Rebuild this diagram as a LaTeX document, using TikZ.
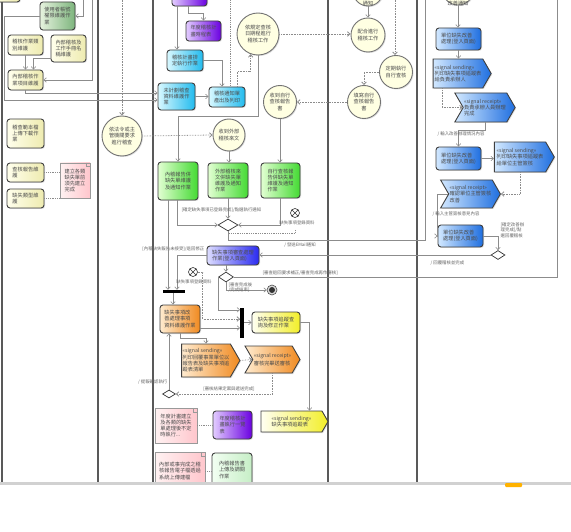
\documentclass[tikz,border=0pt]{standalone}
\usepackage{fontspec}
\setmainfont{Noto Sans CJK TC}
\usetikzlibrary{shapes.geometric,shapes.symbols,shadows,arrows.meta,calc}
\definecolor{ylA}{HTML}{FFFFEC}\definecolor{ylB}{HTML}{EEEBB0}
\definecolor{gnA}{HTML}{E6F2DE}\definecolor{gnB}{HTML}{7DB57D}
\definecolor{bgA}{HTML}{E2FFD2}\definecolor{bgB}{HTML}{44DA33}
\definecolor{cyA}{HTML}{D8F8FF}\definecolor{cyB}{HTML}{22BBEE}
\definecolor{puA}{HTML}{E2CCFF}\definecolor{puB}{HTML}{6A00E0}
\definecolor{blA}{HTML}{D2E8FF}\definecolor{blB}{HTML}{1F6FE0}
\definecolor{orA}{HTML}{FFEBCF}\definecolor{orB}{HTML}{F08A20}
\definecolor{y2A}{HTML}{FFFFF2}\definecolor{y2B}{HTML}{F2EE28}
\definecolor{bpA}{HTML}{DCDCFF}\definecolor{bpB}{HTML}{2A2AF0}
\definecolor{pkA}{HTML}{FFF2F2}\definecolor{pkB}{HTML}{FFC6CC}
\definecolor{lgA}{HTML}{F2FFF2}\definecolor{lgB}{HTML}{C6EEC6}
\definecolor{ciF}{HTML}{FFFFE2}
\tikzset{
  txt/.style={font=\fontsize{5.2}{6.3}\selectfont, text=black!70, align=left},
  act/.style={txt, draw=black!75, line width=0.9pt, rounded corners=3pt, inner sep=1pt,
    drop shadow={opacity=0.25, shadow xshift=1pt, shadow yshift=-1pt}},
  ylw/.style={act, left color=ylA, right color=ylB},
  gnt/.style={act, left color=gnA, right color=gnB},
  bgn/.style={act, left color=bgA, right color=bgB},
  cyn/.style={act, left color=cyA, right color=cyB},
  ppl/.style={act, left color=puA, right color=puB},
  blu/.style={act, left color=blA, right color=blB},
  org/.style={act, left color=orA, right color=orB},
  yl2/.style={act, left color=y2A, right color=y2B},
  bpu/.style={act, left color=bpA, right color=bpB},
  lgn/.style={act, left color=lgA, right color=lgB},
  sendsig/.style={signal, signal to=east, signal pointer angle=120, rounded corners=0pt},
  recvsig/.style={signal, signal from=west, signal pointer angle=120, rounded corners=0pt},
  note/.style={txt, draw=black!40, line width=0.5pt, inner sep=1.5pt, left color=pkA, right color=pkB},
  evt/.style={txt, circle, draw=black!55, line width=0.9pt, fill=ciF, inner sep=0pt, align=center,
    drop shadow={opacity=0.25, shadow xshift=1pt, shadow yshift=-1pt}},
  dec/.style={diamond, draw=black!80, line width=0.7pt, fill=white, inner sep=0pt},
  ffin/.style={circle, draw=black!80, line width=0.6pt, fill=white, minimum size=9pt, inner sep=0pt,
    path picture={\draw[black!80, line width=0.6pt] (path picture bounding box.south west) -- (path picture bounding box.north east)
      (path picture bounding box.north west) -- (path picture bounding box.south east);}},
  afin/.style={circle, draw=black!70, line width=0.6pt, fill=black!15, minimum size=10pt, inner sep=0pt,
    path picture={\fill[black!80] (path picture bounding box.center) circle (3pt);}},
  barh/.style={fill=black, inner sep=0pt},
  con/.style={draw=black!45, line width=0.6pt, -{Straight Barb[length=2.5pt,width=4.5pt]}},
  dcon/.style={con, densely dotted, line width=0.8pt},
  dln/.style={draw=black!45, densely dotted, line width=0.8pt},
  lbl/.style={font=\fontsize{4.4}{5.3}\selectfont, text=black!60, inner sep=0.5pt, align=left},
  lane/.style={draw=black!65, line width=1.3pt}
}
\begin{document}
\begin{tikzpicture}[x=1pt,y=-1pt]
\useasboundingbox[fill=white] (0,0) rectangle (571,532);
\begin{scope}
\clip (0,0) rectangle (571,482);
% lanes
\foreach \lx in {2,98,153,328,417} \draw[lane] (\lx,-5) -- (\lx,482);

% ---------- lane 1 ----------
\node[ylw, minimum width=30, minimum height=22] (n0) at (5,-9) {};
\node[gnt, minimum width=35, minimum height=28] (n1) at (57.5,16) {使用者帳號\\權限維護作\\業};
\node[ylw, minimum width=35, minimum height=20] (n2) at (25.5,45) {稽核作業類\\別維護};
\node[ylw, minimum width=35, minimum height=27] (n3) at (68.5,48.5) {內部稽核及\\工作手冊名\\稱維護};
\node[ylw, minimum width=35, minimum height=20] (n4) at (25.5,80) {內部稽核作\\業項目維護};
\node[ylw, minimum width=37, minimum height=29] (n5) at (25.5,133.5) {稽查範本檔\\上傳下載作\\業};
\node[ylw, minimum width=37, minimum height=19] (n6) at (25.5,172.5) {查核報告維\\護};
\node[ylw, minimum width=37, minimum height=19] (n7) at (25.5,198.5) {缺失類型維\\護};
\node[note, minimum width=30, minimum height=35] (nt1) at (75,180.5) {建立各類\\缺失單前\\須先建立\\完成};
\draw[black!40, line width=0.5pt] ($(nt1.north east)+(-4,0)$) -- ++(0,4) -- ++(4,0);

% ---------- lane 2 ----------
\node[evt, minimum size=40] (c1) at (122,136) {依法令或主\\管機關要求\\進行稽查};

% ---------- lane 3 ----------
\node[ppl, minimum width=35, minimum height=26] (p0) at (189.5,-7) {};
\node[ppl, minimum width=35, minimum height=20] (p1) at (203.5,31) {年度稽核計\\畫時程表};
\node[cyn, minimum width=36, minimum height=21] (b1) at (185,60.5) {稽核計畫排\\定執行作業};
\node[cyn, minimum width=37, minimum height=27] (b2) at (176.5,96.5) {未計劃稽查\\資料維護作\\業};
\node[cyn, minimum width=36, minimum height=20] (b3) at (227,97) {稽核通知單\\產出及列印};
\node[evt, minimum size=42] (c3) at (258,34) {依規定查核\\日期程進行\\稽核工作};
\node[evt, minimum size=33] (c4) at (280,102) {收到自行\\查核報告\\書};
\node[evt, minimum size=32] (c2) at (229,135) {收到外部\\稽核來文};
\node[bgn, minimum width=40, minimum height=38] (g1) at (178,181) {內稽報告併\\缺失單維護\\及通知作業};
\node[bgn, minimum width=40, minimum height=35] (g2) at (228,180.5) {外部稽核來\\文併缺失單\\維護及通知\\作業};
\node[bgn, minimum width=39, minimum height=35] (g3) at (280.5,180.5) {自行查核報\\告併缺失單\\維護及通知\\作業};
\node[dec, minimum width=20, minimum height=12] (d1) at (228,225) {};
\node[ffin] (ff1) at (295,213) {};
\node[bpu, minimum width=52, minimum height=19] (bq) at (233,255.5) {缺失事項審查處理\\作業(登入頁面)};
\node[dec, minimum width=15, minimum height=10] (d2) at (226,277) {};
\node[ffin] (ff2) at (193,272) {};
\node[barh, minimum width=22, minimum height=3] (bar1) at (174,291.5) {};
\node[afin] (fin) at (272,290) {};
\node[org, minimum width=40, minimum height=28] (o1) at (180,319) {缺失事項改\\善處理事項\\資料維護作業};
\node[barh, minimum width=3.5, minimum height=30] (bar2) at (242,323) {};
\node[yl2, minimum width=48, minimum height=21] (y1) at (276,322.5) {缺失事項追蹤查\\詢及修正作業};
\node[org, sendsig, minimum width=58, minimum height=33] (os) at (206,360.5) {<<signal sending>>\\列印回覆事業單位以\\報告表及缺失事項追\\蹤表清單};
\node[org, recvsig, minimum width=55, minimum height=27] (or) at (272.5,359.5) {<<signal receipt>>\\[2pt]審核完畢送審核};
\node[dec, minimum width=13, minimum height=8] (d3) at (169,394) {};
\node[note, minimum width=42, minimum height=35] (nt2) at (176,425.5) {年度計畫建立\\及各類的缺失\\單處理後不定\\時執行...};
\draw[black!40, line width=0.5pt] ($(nt2.north east)+(-4,0)$) -- ++(0,4) -- ++(4,0);
\node[note, minimum width=50, minimum height=38] (nt3) at (180,471) {內部或事完成之稽\\核報告電子檔透過\\系統上傳建檔};
\draw[black!40, line width=0.5pt] ($(nt3.north east)+(-4,0)$) -- ++(0,4) -- ++(4,0);
\node[ppl, minimum width=39, minimum height=28] (p2) at (232.5,425) {年度稽核計\\畫執行一覽\\表};
\node[lgn, minimum width=40, minimum height=34] (lg) at (232,470) {內稽報告書\\上傳及調閱\\作業};
\node[yl2, sendsig, minimum width=67, minimum height=21] (ys) at (291.5,421.5) {<<signal sending>>\\缺失事項追蹤表};

% ---------- lane 4 ----------
\node[evt, minimum size=30] (c5) at (368,-9) {};
\node[txt, inner sep=0pt, align=center] (c5t) at (368,3.2) {通知};
\node[evt, minimum size=34] (c6) at (368,35) {配合進行\\稽核工作};
\node[evt, minimum size=33] (c7) at (396,72) {定期執行\\自行查核};
\node[evt, minimum size=33] (c8) at (364,102) {填寫自行\\查核報告\\書};

% ---------- lane 5 ----------
\node[evt, minimum size=32] (c9) at (458,-11) {};
\node[txt, inner sep=0pt, align=center] (c9t) at (458,3.2) {改善通知};
\node[blu, minimum width=45, minimum height=22] (r1) at (458.5,39) {單位缺失改善\\處理(登入頁面)};
\node[blu, sendsig, minimum width=58, minimum height=29] (rs1) at (458,73.5) {<<signal sending>>\\列印缺失事項追蹤表\\給負責承辦人};
\node[blu, recvsig, minimum width=54, minimum height=29] (rr1) at (485,107.5) {<<signal receipt>>\\負責承辦人員辦理\\完成};
\node[blu, minimum width=45, minimum height=23] (r2) at (458.5,158.5) {單位缺失改善\\處理(登入頁面)};
\node[blu, sendsig, minimum width=60, minimum height=30] (rs2) at (520,157) {<<signal sending>>\\列印缺失事項追蹤表\\給單位主管簽核};
\node[blu, recvsig, minimum width=55, minimum height=28] (rr2) at (470.5,194) {<<signal receipt>>\\確認單位主管簽核\\改善};
\node[blu, minimum width=45, minimum height=22] (r3) at (460.5,236) {單位缺失改善\\處理(登入頁面)};
\node[dec, minimum width=14, minimum height=9] (d4) at (498,255) {};

% free ends at the top
\coordinate (topA) at (92,-5);
\coordinate (topB) at (83,-5);
\coordinate (topC) at (122,-5);
\coordinate (topD) at (230,-5);
\coordinate (topE) at (395,-5);
\coordinate (topF) at (425,-5);
\coordinate (topG) at (557,-5);

% ---------- connectors lane 1 ----------
\draw[con] (n2.south) -- (n4.north);
\draw[con] ($(n3.west)+(0,10)$) -| ([xshift=8pt]n4.north);
\draw[con] (n4.south) |- ($(b2.west)+(0,-3.5)$);
\draw[con] (n1.west) -- ++(-35,0) |- ($(b2.west)+(0,3.5)$);
\draw[con] (topA) |- (n4.east);
\draw[con] (topB) |- (n1.east);
\draw[dln] (n6.east) -- (nt1.west |- n6.east);
\draw[dln] (n7.east) -- (nt1.west |- n7.east);

% ---------- connectors lanes 2-4 ----------
\draw[dcon] (topC) -- (c1.north);
\draw[dcon] (c1.east) -- (c2.west);
\draw[con] (c2.south) -- (c2.south |- g2.north);
\draw[con] ([xshift=-1.5pt]p0.south) -- ++(0,7) -| (p1.north);
\draw[con] ([xshift=-8pt]b1.north |- p0.south) -- ([xshift=-8pt]b1.north);
\draw[con] (b1.east) -| ([xshift=-5pt]b3.north);
\draw[con] (b2.east) -- (b3.west |- b2.east);
\draw[dln] (topD) -- (topD |- b3.north);
\draw[dcon] ([xshift=10pt]b3.north) -- ++(0,-15) -| (c3.250);
\draw[con] (c3.south) -- ++(0,61) -| (g1.north);
\draw[dcon] (c3.east) -- (c6.west |- c3.east);
\draw[con] (c5.south) -- (c6.north);
\draw[dcon] (topE) -- (topE |- c7.north);
\draw[dcon] (c7.west) -| (c8.north);
\draw[dcon] (c8.west) -- (c4.east);
\draw[con] (c4.south) -- (c4.south |- g3.north);

\draw[con] ([xshift=-1pt]g1.south) |- (d1.west);
\draw[con] (g2.south) -- (d1.north);
\draw[con] (g3.south) |- (d1.east);
\node[lbl, anchor=west] (l1) at (181,210) {[確定缺失事項已登錄完成]/點選執行通知};
\node[lbl] (l2) at (297,223) {缺失事項登錄資料};
\draw[dln] (ff1.south) ++(0,12) |- ($(d1.south)+(1,2)$);
\draw[con] (d1.south) -- ++(0,9) -| (topF);
\node[lbl] (l3) at (300,245) {/ 發送EMail通知};

\draw[con] (bq.west) -| ([xshift=3pt]bar1.north);
\node[lbl, anchor=east] (l4) at (205,249) {[內稽缺失報告未接受]/退回修正};
\draw[con] ([xshift=-10pt]g1.south) -- ([xshift=-10pt]g1.south |- bar1.north);
\node[lbl] (l7) at (194,282) {缺失事項登錄資料};
\draw[con] ([xshift=-7pt]o1.north |- bar1.south) -- ([xshift=-7pt]o1.north);
\draw[con] (d2.north |- bq.south) -- (d2.north);
\draw[con] (d2.west) |- ($(bar2.north west)+(0,2)$);
\draw[dcon] (ff2.east) -- ++(5,0) |- ($(bar2.west)+(0,-4)$);
\draw[con] ($(o1.east)+(0,9)$) -- ($(bar2.west)+(0,5)$);
\draw[con] (bar2.east |- y1.west) -- (y1.west);
\draw[con] (y1.east) -| ([xshift=18pt]ys.north);
\draw[con] (d2.south) |- (fin.west);
\node[lbl, anchor=north west] (l6) at (228,282) {[審查完成後\\/完成結束]};
\draw[con] (d2.east) -| (topG);
\node[lbl, anchor=south west] (l5) at (262,275.5) {[審查退回要求補正/審查完成再作審核]};
\draw[con] (o1.south) -- ++(0,5) -| (os.north);
\draw[dcon] (os.east) -- (or.west);
\draw[dcon] (or.south) |- (d3.east);
\node[lbl] (l9) at (229,389) {[審核結果定案與遞送完成]};
\draw[con] (d3.north) -- (d3.north |- o1.south);
\node[lbl, anchor=east] (l8) at (168,382) {/ 提報確認執行};
\draw[dln] (nt2.east) -- (p2.west |- nt2.east);
\draw[dln] (nt3.east) -- (lg.west |- nt3.east);

% ---------- connectors lane 5 ----------
\draw[con] (c9.south) -- (c9.south |- r1.north);
\draw[con] (r1.south) -- (r1.south |- rs1.north);
\draw[dcon] ([xshift=-16pt]rs1.south) |- (rr1.west);
\draw[con] (rr1.south) -- ++(0,8) -| (r2.north);
\node[lbl, anchor=west] (l10) at (437,134) {/ 輸入改善辦理情況內容};
\draw[con] (r2.east) -- (rs2.west |- r2.east);
\draw[dcon] (rs2.south) |- (rr2.east);
\draw[con] (rr2.west) -- ++(-11,0) |- (r3.west);
\node[lbl, anchor=west] (l11) at (432,214) {/ 輸入主管簽核意見內容};
\draw[con] (r3.east) -| (d4.north);
\node[lbl, anchor=north west] (l12) at (500,222) {[確定改善辦\\理完成]/點\\選回覆稽核};
\draw[con] (d4.west) -- (bq.east |- d4.west);
\node[lbl, anchor=west] (l13) at (430,263) {/ 回覆稽核並完成};
\end{scope}
% window edge
\fill[black!18] (0,482) rectangle (571,485);
\fill[orange!60!yellow, rounded corners=1pt] (505,483) rectangle (522,487);
\end{tikzpicture}
\end{document}
